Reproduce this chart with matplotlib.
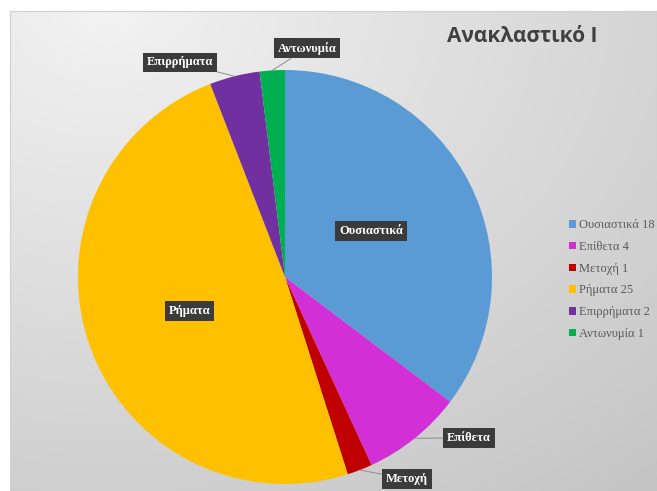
import matplotlib
matplotlib.use("Agg")
import matplotlib.pyplot as plt
import numpy as np

# data
labels = ["Ουσιαστικά", "Επίθετα", "Μετοχή", "Ρήματα", "Επιρρήματα", "Αντωνυμία"]
values = [18, 4, 1, 25, 2, 1]
colors = ["#5B9BD5", "#D22FD6", "#C00000", "#FFC000", "#7030A0", "#00B050"]
title = "Ανακλαστικό Ι"

# label placement (radius, angle offset in degrees) for each slice
label_r = [0.47, 1.18, 1.14, 0.49, 1.155, 1.11]
label_da = [1.6, 10.0, 10.0, 0.3, 12.0, -9.0]

fig = plt.figure(figsize=(6.57, 4.91), dpi=100)
fig.patch.set_facecolor("white")

# gradient background of the chart area (light top-left, darker bottom-right)
bg = fig.add_axes([10 / 657, 0, 1 - 10 / 657, 480 / 491])
yy, xx = np.mgrid[0:1:200j, 0:1:200j]
d = np.sqrt((xx - 0.15) ** 2 + (yy - 1.0) ** 2) / 1.31
g = 0.95 - 0.18 * d
bg.imshow(np.dstack([g, g, g]), extent=[0, 1, 0, 1], origin="lower", aspect="auto")
bg.set_xticks([])
bg.set_yticks([])
for s in bg.spines.values():
    s.set_color("#d0d0d0")
    s.set_linewidth(0.8)

# pie axes: centre (285,277) px, radius 207 px
cx, cy, r = 285, 277, 207
ax = fig.add_axes([(cx - r) / 657, (491 - cy - r) / 491, 2 * r / 657, 2 * r / 491])
ax.axis("off")

wedges, _ = ax.pie(values, colors=colors, startangle=90, counterclock=False,
                   radius=1, wedgeprops=dict(linewidth=0))
ax.set_xlim(-1, 1)
ax.set_ylim(-1, 1)
ax.set_aspect("auto")

box = dict(boxstyle="square,pad=0.3", fc="#3b3b3b", ec="none")
for w, lab, lr, da in zip(wedges, labels, label_r, label_da):
    mid = (w.theta1 + w.theta2) / 2
    ang = np.deg2rad(mid + da)
    tx, ty = lr * np.cos(ang), lr * np.sin(ang)
    if lr < 1:
        ax.text(tx, ty, lab, ha="center", va="center", color="white",
                fontsize=9, fontweight="bold", family="Liberation Serif", bbox=box)
    else:
        ex, ey = np.cos(np.deg2rad(mid)), np.sin(np.deg2rad(mid))
        ax.annotate(lab, xy=(ex, ey), xytext=(tx, ty), ha="center", va="center",
                    color="white", fontsize=9, fontweight="bold",
                    family="Liberation Serif", bbox=box, annotation_clip=False,
                    arrowprops=dict(arrowstyle="-", color="#8c8c8c", lw=0.7,
                                    shrinkA=0, shrinkB=0))

fig.text(522 / 657, 1 - 37 / 491, title, ha="center", va="center", fontsize=15,
         fontweight="bold", color="#404040", family="Open Sans")

handles = [plt.Rectangle((0, 0), 1, 1, fc=c, ec="none") for c in colors]
leg_labels = [f"{l} {v}" for l, v in zip(labels, values)]
fig.legend(handles, leg_labels, loc="upper left", bbox_to_anchor=(563 / 657, 1 - 213 / 491),
           frameon=False, prop=dict(family="Liberation Serif", size=9),
           labelcolor="#595959", handlelength=0.55, handleheight=0.55,
           handletextpad=0.25, labelspacing=0.78, borderpad=0)

fig.savefig("out.png", dpi=100)
